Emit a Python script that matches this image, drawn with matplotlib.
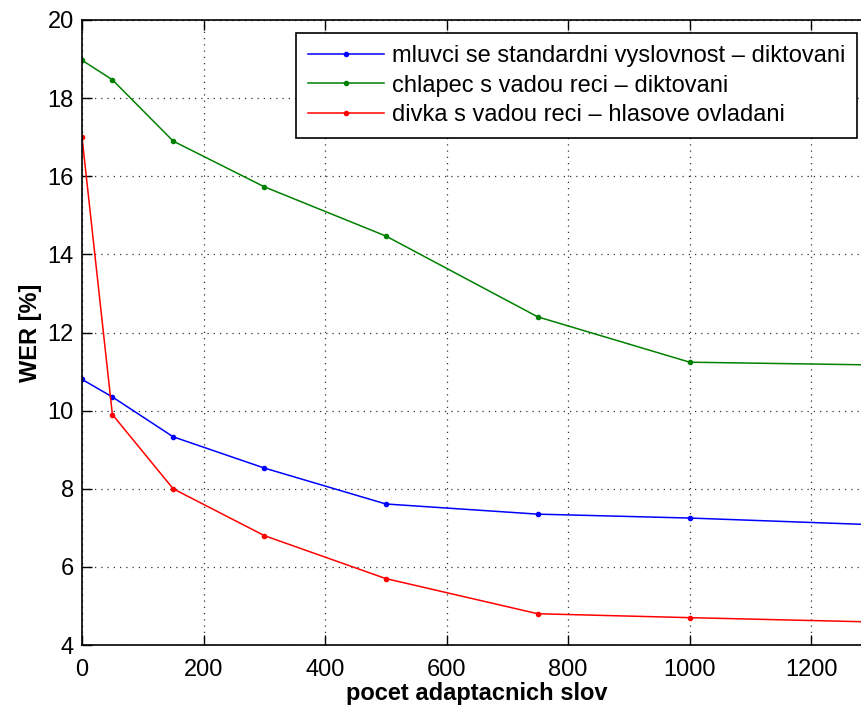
import numpy as np
import matplotlib.pyplot as plt

plt.rcParams['font.family'] = ['Liberation Sans', 'DejaVu Sans']

# number of adaptation words
words = [0, 50, 150, 300, 500, 750, 1000, 1300]

wer_standard = [10.8, 10.35, 9.33, 8.53, 7.61, 7.35, 7.25, 7.08]
wer_boy = [18.97, 18.47, 16.9, 15.73, 14.47, 12.4, 11.24, 11.17]
wer_girl = [17.0, 9.9, 8.0, 6.8, 5.7, 4.8, 4.7, 4.59]

labels = [
    "mluvci se standardni vyslovnost \u2013 diktovani",
    "chlapec s vadou reci \u2013 diktovani",
    "divka s vadou reci \u2013 hlasove ovladani",
]

W, H = 861, 706
fig = plt.figure(figsize=(W / 100, H / 100), dpi=100)
# axes runs a little past the right edge of the picture (cropped like the original)
ax = fig.add_axes([82 / W, 61 / H, 790 / W, 625 / H])

ax.plot(words, wer_standard, '.-', color='#0000ff', lw=1.1, ms=6, label=labels[0])
ax.plot(words, wer_boy, '.-', color='#008000', lw=1.1, ms=6, label=labels[1])
ax.plot(words, wer_girl, '.-', color='#ff0000', lw=1.1, ms=6, label=labels[2])

ax.set_xlim(0, 1300)
ax.set_ylim(4, 20)
ax.set_xticks(np.arange(0, 1201, 200))
ax.set_yticks(np.arange(4, 21, 2))
ax.tick_params(direction='in', length=7, width=1, labelsize=17, pad=6, top=True, right=True)
ax.tick_params(axis='x', pad=10)
ax.grid(True, linestyle=(0, (1, 4)), color='0.2', lw=0.9)
for s in ax.spines.values():
    s.set_linewidth(1.2)

ax.set_xlabel("pocet adaptacnich slov", fontsize=17, fontweight='bold', labelpad=1)
ax.set_ylabel("WER [%]", fontsize=17, fontweight='bold', labelpad=4)

leg = ax.legend(loc='upper right', bbox_to_anchor=(857 / W, 1 - 33 / H),
                bbox_transform=fig.transFigure, fontsize=17, fancybox=False,
                framealpha=1, edgecolor='black', borderpad=0.5, labelspacing=0.33,
                handlelength=3.2, handletextpad=0.35, borderaxespad=0)
leg.get_frame().set_linewidth(1.2)

fig.savefig("out.png", dpi=100)
